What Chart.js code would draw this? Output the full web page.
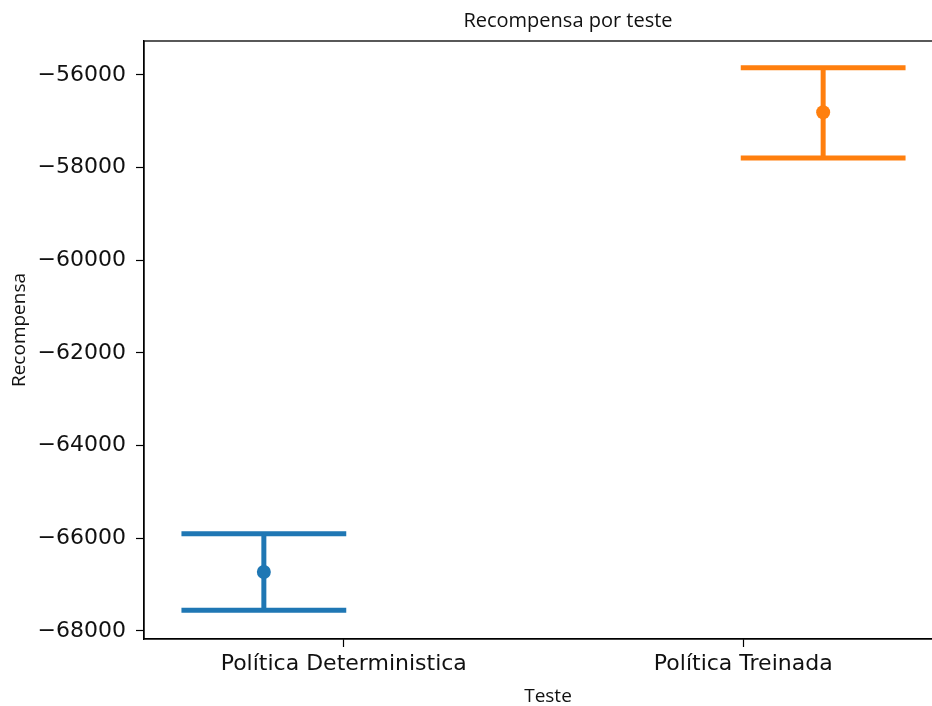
<!DOCTYPE html>
<html>
<head>
<meta charset="utf-8">
<script src="https://cdn.jsdelivr.net/npm/chart.js@4.4.1/dist/chart.umd.min.js"></script>
<style>
  html, body { margin: 0; padding: 0; background: #fff; overflow: hidden; }
  #wrap { width: 932px; height: 706px; overflow: hidden; }
</style>
</head>
<body>
<div id="wrap"><canvas id="reward_plot" width="950" height="706"></canvas></div>
<script>
'use strict';

// policies tested (x categories)
const categories = ['Política Deterministica', 'Política Treinada'];
// mean reward per policy and its confidence interval
const meanReward = [-66727, -56805];
const ciLow = [-67553, -57791];
const ciHigh = [-65899, -55843];
const yTicks = [-68000, -66000, -64000, -62000, -60000, -58000, -56000];

const colors = ['#1f77b4', '#ff7f0e'];
const DODGE = [-0.2, 0.2];   // hue offset around the category tick
const CAP_HALF = 0.2;        // half width of the error bar caps, in category units

/**
 * Draw the confidence interval of every dataset as a capped vertical bar
 */
const errorBars = {
    id: 'errorBars',
    beforeDatasetsDraw(chart) {
        const ctx = chart.ctx;
        const x = chart.scales.x;
        const y = chart.scales.y;
        chart.data.datasets.forEach((ds, i) => {
            const cx = i + DODGE[i];
            const px = x.getPixelForValue(cx);
            const top = y.getPixelForValue(ciHigh[i]);
            const bottom = y.getPixelForValue(ciLow[i]);
            const left = x.getPixelForValue(cx - CAP_HALF);
            const right = x.getPixelForValue(cx + CAP_HALF);
            ctx.save();
            ctx.strokeStyle = colors[i];
            ctx.lineWidth = 5;
            ctx.lineCap = 'butt';
            ctx.beginPath();
            ctx.moveTo(px, top);
            ctx.lineTo(px, bottom);
            ctx.stroke();
            ctx.lineCap = 'square';
            ctx.beginPath();
            ctx.moveTo(left, top);
            ctx.lineTo(right, top);
            ctx.moveTo(left, bottom);
            ctx.lineTo(right, bottom);
            ctx.stroke();
            ctx.restore();
        });
    }
};

// box around the plot area (spines), the title and the axis labels
const frame = {
    id: 'frame',
    afterDraw(chart) {
        const a = chart.chartArea;
        const ctx = chart.ctx;
        ctx.save();
        ctx.strokeStyle = '#000';
        ctx.lineWidth = 1.3;
        ctx.strokeRect(a.left, a.top, a.right - a.left, a.bottom - a.top);

        ctx.fillStyle = '#111';
        ctx.textAlign = 'center';
        ctx.textBaseline = 'middle';
        ctx.font = '20px "Open Sans"';
        ctx.fillText('Recompensa por teste', 568, 21);
        ctx.font = '19px "Open Sans"';
        ctx.fillText('Teste', 548, 697);
        ctx.translate(20, 330);
        ctx.rotate(-Math.PI / 2);
        ctx.fillText('Recompensa', 0, 0);
        ctx.restore();
    }
};

const datasets = categories.map((name, i) => ({
    label: name,
    data: [{x: i + DODGE[i], y: meanReward[i]}],
    pointRadius: 7,
    pointHoverRadius: 7,
    pointBackgroundColor: colors[i],
    pointBorderColor: colors[i],
    pointBorderWidth: 0,
    showLine: false
}));

const axisTick = {
    display: true,
    drawOnChartArea: false,
    drawTicks: true,
    tickLength: 8,
    tickColor: '#000',
    tickWidth: 1.2
};

const reward_plot = new Chart('reward_plot', {
    type: 'scatter',
    data: {datasets: datasets},
    plugins: [errorBars, frame],
    options: {
        responsive: false,
        animation: false,
        devicePixelRatio: 1,
        layout: {padding: {left: 0, right: 7, top: 41, bottom: 0}},
        plugins: {
            legend: {display: false},
            tooltip: {enabled: false},
            title: {display: false}
        },
        scales: {
            x: {
                type: 'linear',
                min: -0.5,
                max: 1.5,
                afterBuildTicks: (axis) => {
                    axis.ticks = categories.map((c, i) => ({value: i}));
                },
                afterFit: (axis) => { axis.height = 67; },
                ticks: {
                    callback: (v) => categories[v],
                    color: '#111',
                    padding: 4,
                    maxRotation: 0,
                    autoSkip: false,
                    font: {family: 'DejaVu Sans', size: 22}
                },
                grid: axisTick,
                border: {display: true, color: '#000', width: 1.3}
            },
            y: {
                type: 'linear',
                min: -68173,
                max: -55267,
                afterBuildTicks: (axis) => {
                    axis.ticks = yTicks.map(v => ({value: v}));
                },
                afterFit: (axis) => { axis.width = 144; },
                ticks: {
                    callback: (v) => (v < 0 ? '\u2212' : '') + Math.abs(v),
                    color: '#111',
                    padding: 10,
                    font: {family: 'DejaVu Sans', size: 22}
                },
                grid: axisTick,
                border: {display: true, color: '#000', width: 1.3}
            }
        }
    }
});
</script>
</body>
</html>
